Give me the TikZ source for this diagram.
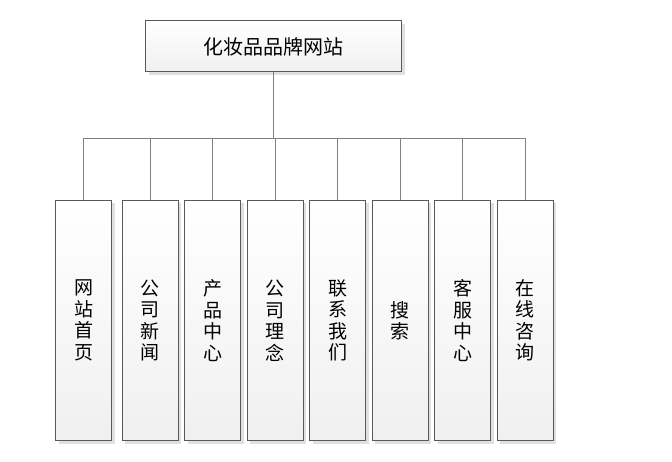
\documentclass[tikz,border=0pt]{standalone}
\usepackage{fontspec}
\newfontfamily\cjk{Noto Sans CJK SC}
\usetikzlibrary{shadows}

\def\busy{138}

\begin{document}
\begin{tikzpicture}[x=1pt,y=-1pt,
  box/.style={draw=black!65, line width=1pt, top color=white, bottom color=black!6,
    drop shadow={shadow xshift=3pt, shadow yshift=-3pt, fill=black!12, opacity=1}},
  link/.style={draw=black!50, line width=0.8pt}]
 \useasboundingbox (0,0) rectangle (672,462);
 % root
 \node[box, minimum width=256pt, minimum height=51pt, font=\cjk\fontsize{20}{24}\selectfont]
  (root) at (273.5,46.5) {化妆品品牌网站};
 % children
 \foreach \i/\x/\txt in {1/83.5/网\\站\\首\\页, 2/150/公\\司\\新\\闻, 3/212.6/产\\品\\中\\心,
   4/275.2/公\\司\\理\\念, 5/337.7/联\\系\\我\\们, 6/400.2/搜\\索, 7/462.8/客\\服\\中\\心,
   8/525.3/在\\线\\咨\\询}
  \node[box, minimum width=56pt, minimum height=240pt, inner sep=0pt, align=center,
   font=\cjk\fontsize{19}{21.5}\selectfont]
   (c\i) at (\x,320.5) {\txt};
 % bus
 \coordinate (bus) at (root.south |- 0,\busy);
 \draw[link] (root.south) -- (bus);
 \draw[link] (c1.north |- bus) -- (c8.north |- bus);
 \foreach \i in {1,...,8}
  \draw[link] (c\i.north) -- (c\i.north |- bus);
\end{tikzpicture}
\end{document}
